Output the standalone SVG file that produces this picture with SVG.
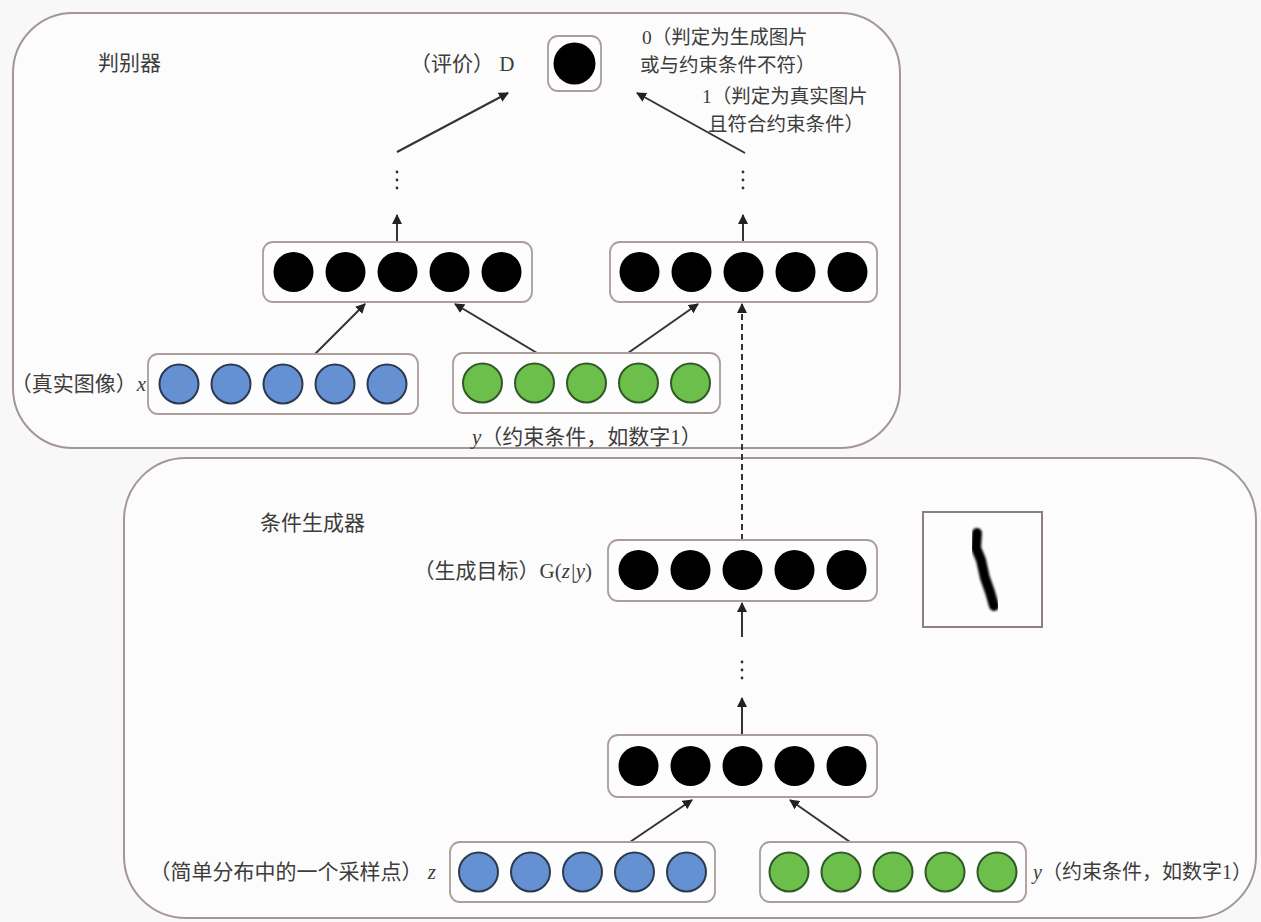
<svg xmlns="http://www.w3.org/2000/svg" width="1261" height="922" viewBox="0 0 1261 922">
  <defs>
    <style>
      .bg{fill:#f8f8f8}
      .panel{fill:#fcfcfc;stroke:#a39693;stroke-width:2}
      .layer{fill:#fdfdfd;stroke:#ab9d99;stroke-width:1.8}
      .n{fill:#000}
      .b{fill:#6591d3;stroke:#2c3a50;stroke-width:2}
      .g{fill:#6dbf4b;stroke:#2f5a27;stroke-width:2}
      .lbl{font-family:"Noto Sans CJK SC","Noto Sans",sans-serif;font-size:21px;fill:#3d3d3d}
      .sm{font-size:20px}
      .xs{font-size:19.5px}
      .it{font-family:"Liberation Serif",serif;font-style:italic}
      .rm{font-family:"Liberation Serif",serif}
      .arr{stroke:#333;stroke-width:2;fill:none;marker-end:url(#ah)}
      .dash{stroke-dasharray:6 4}
      .dot{fill:#333}
    </style>
    <marker id="ah" viewBox="0 0 10 10" refX="9" refY="5" markerWidth="5" markerHeight="5" orient="auto" markerUnits="strokeWidth">
      <path d="M0 0 L10 5 L0 10 z" fill="#222"/>
    </marker>
    <filter id="soft" x="-20%" y="-20%" width="140%" height="140%">
      <feGaussianBlur stdDeviation="1.3"/>
    </filter>
  </defs>

  <rect class="bg" x="0" y="0" width="1261" height="922"/>

  <!-- panels -->
  <g id="discriminator-panel">
    <rect class="panel" x="13" y="13" width="887" height="435" rx="60"/>
    <text class="lbl" x="98" y="70">判别器</text>
  </g>
  <g id="generator-panel">
    <rect class="panel" x="124" y="458" width="1132" height="460" rx="62"/>
    <text class="lbl" x="260" y="530">条件生成器</text>
  </g>

  <!-- connectors -->
  <g id="connectors">
    <line class="arr" x1="397" y1="152" x2="508" y2="93"/>
    <line class="arr" x1="745" y1="153" x2="637" y2="93"/>
    <circle class="dot" cx="397" cy="172" r="1.4"/>
    <circle class="dot" cx="397" cy="180" r="1.4"/>
    <circle class="dot" cx="397" cy="188" r="1.4"/>
    <circle class="dot" cx="743" cy="172" r="1.4"/>
    <circle class="dot" cx="743" cy="180" r="1.4"/>
    <circle class="dot" cx="743" cy="188" r="1.4"/>
    <line class="arr" x1="397" y1="242" x2="397" y2="215"/>
    <line class="arr" x1="743" y1="242" x2="743" y2="215"/>
    <line class="arr" x1="315" y1="354" x2="365" y2="304"/>
    <line class="arr" x1="537" y1="353" x2="455" y2="304"/>
    <line class="arr" x1="628" y1="353" x2="698" y2="304"/>
    <line class="arr dash" x1="742" y1="540" x2="742" y2="304"/>
    <line class="arr" x1="742" y1="637" x2="742" y2="603"/>
    <circle class="dot" cx="742" cy="662" r="1.4"/>
    <circle class="dot" cx="742" cy="670" r="1.4"/>
    <circle class="dot" cx="742" cy="678" r="1.4"/>
    <line class="arr" x1="742" y1="735" x2="742" y2="698"/>
    <line class="arr" x1="630" y1="842" x2="692" y2="800"/>
    <line class="arr" x1="850" y1="842" x2="790" y2="800"/>
  </g>

  <!-- discriminator output D -->
  <g id="node-d">
    <rect class="layer" x="548" y="36" width="53" height="55" rx="10"/>
    <circle class="n" cx="574.5" cy="63.5" r="21"/>
    <text class="lbl" x="410" y="71">（评价）<tspan class="rm"> D</tspan></text>
    <text class="lbl xs" x="642" y="44"><tspan class="rm">0</tspan>（判定为生成图片</text>
    <text class="lbl xs" x="640" y="72">或与约束条件不符）</text>
    <text class="lbl xs" x="702" y="103"><tspan class="rm">1</tspan>（判定为真实图片</text>
    <text class="lbl xs" x="708" y="131">且符合约束条件）</text>
  </g>

  <!-- discriminator hidden layers -->
  <g id="node-d-hidden-left">
    <rect class="layer" x="263" y="242" width="269" height="60" rx="10"/>
    <circle class="n" cx="293.5" cy="272" r="20"/>
    <circle class="n" cx="345.5" cy="272" r="20"/>
    <circle class="n" cx="397.5" cy="272" r="20"/>
    <circle class="n" cx="449.5" cy="272" r="20"/>
    <circle class="n" cx="501.5" cy="272" r="20"/>
  </g>
  <g id="node-d-hidden-right">
    <rect class="layer" x="610" y="242" width="267" height="60" rx="10"/>
    <circle class="n" cx="639.5" cy="272" r="20"/>
    <circle class="n" cx="691.5" cy="272" r="20"/>
    <circle class="n" cx="743.5" cy="272" r="20"/>
    <circle class="n" cx="795.5" cy="272" r="20"/>
    <circle class="n" cx="847.5" cy="272" r="20"/>
  </g>

  <!-- discriminator inputs -->
  <g id="node-x">
    <rect class="layer" x="148" y="354" width="270" height="60" rx="10"/>
    <circle class="b" cx="179" cy="384" r="19.5"/>
    <circle class="b" cx="231" cy="384" r="19.5"/>
    <circle class="b" cx="283" cy="384" r="19.5"/>
    <circle class="b" cx="335" cy="384" r="19.5"/>
    <circle class="b" cx="387" cy="384" r="19.5"/>
    <text class="lbl" x="146" y="391" text-anchor="end">（真实图像）<tspan class="it">x</tspan></text>
  </g>
  <g id="node-y-d">
    <rect class="layer" x="453" y="353" width="267" height="60" rx="10"/>
    <circle class="g" cx="482.5" cy="383" r="19.5"/>
    <circle class="g" cx="534.5" cy="383" r="19.5"/>
    <circle class="g" cx="586.5" cy="383" r="19.5"/>
    <circle class="g" cx="638.5" cy="383" r="19.5"/>
    <circle class="g" cx="690.5" cy="383" r="19.5"/>
    <text class="lbl" x="472" y="444"><tspan class="it">y</tspan>（约束条件，如数字<tspan class="rm">1</tspan>）</text>
  </g>

  <!-- generator output -->
  <g id="node-g-out">
    <rect class="layer" x="608" y="540" width="269" height="61" rx="10"/>
    <circle class="n" cx="638.5" cy="570" r="20"/>
    <circle class="n" cx="690.5" cy="570" r="20"/>
    <circle class="n" cx="742.5" cy="570" r="20"/>
    <circle class="n" cx="794.5" cy="570" r="20"/>
    <circle class="n" cx="846.5" cy="570" r="20"/>
    <text class="lbl" x="592" y="578" text-anchor="end">（生成目标）<tspan class="rm">G(</tspan><tspan class="it">z|y</tspan><tspan class="rm">)</tspan></text>
  </g>

  <!-- generated sample -->
  <g id="node-sample">
    <rect x="923" y="512" width="119" height="115" fill="#fdfdfd" stroke="#8d7f7b" stroke-width="2"/>
    <path d="M977 533 L976 548 L981 560 L985 578 L990 592 L994 606" fill="none" stroke="#000" stroke-width="10" stroke-linecap="round" stroke-linejoin="round" filter="url(#soft)"/>
  </g>

  <!-- generator hidden layer -->
  <g id="node-g-hidden">
    <rect class="layer" x="608" y="735" width="269" height="62" rx="10"/>
    <circle class="n" cx="638.5" cy="766" r="20"/>
    <circle class="n" cx="690.5" cy="766" r="20"/>
    <circle class="n" cx="742.5" cy="766" r="20"/>
    <circle class="n" cx="794.5" cy="766" r="20"/>
    <circle class="n" cx="846.5" cy="766" r="20"/>
  </g>

  <!-- generator inputs -->
  <g id="node-z">
    <rect class="layer" x="450" y="842" width="265" height="60" rx="10"/>
    <circle class="b" cx="478.5" cy="872" r="19.5"/>
    <circle class="b" cx="530.5" cy="872" r="19.5"/>
    <circle class="b" cx="582.5" cy="872" r="19.5"/>
    <circle class="b" cx="634.5" cy="872" r="19.5"/>
    <circle class="b" cx="686.5" cy="872" r="19.5"/>
    <text class="lbl" x="436" y="879" text-anchor="end">（简单分布中的一个采样点）<tspan class="it"> z</tspan></text>
  </g>
  <g id="node-y-g">
    <rect class="layer" x="760" y="842" width="266" height="60" rx="10"/>
    <circle class="g" cx="789" cy="872" r="19.5"/>
    <circle class="g" cx="841" cy="872" r="19.5"/>
    <circle class="g" cx="893" cy="872" r="19.5"/>
    <circle class="g" cx="945" cy="872" r="19.5"/>
    <circle class="g" cx="997" cy="872" r="19.5"/>
    <text class="lbl sm" x="1033" y="879"><tspan class="it">y</tspan>（约束条件，如数字<tspan class="rm">1</tspan>）</text>
  </g>
</svg>
